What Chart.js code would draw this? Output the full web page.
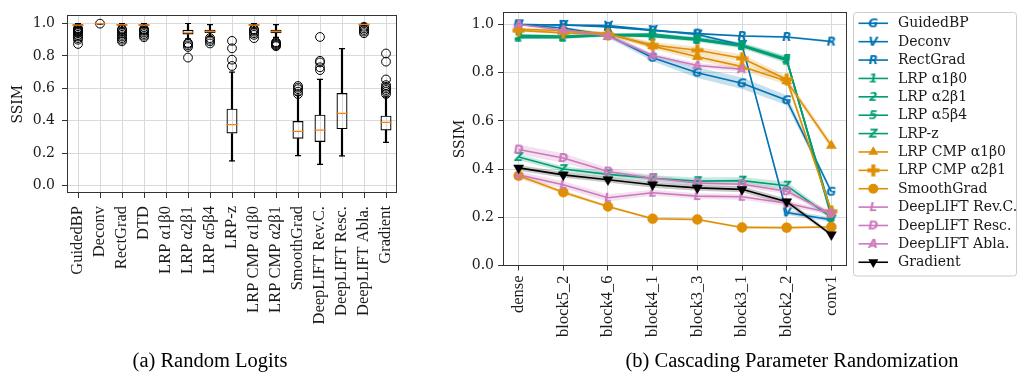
<!DOCTYPE html>
<html>
<head>
<meta charset="utf-8">
<script src="https://cdn.jsdelivr.net/npm/chart.js"></script>
<style>
  body { margin: 0; background: #fff; width: 1019px; height: 376px; position: relative; overflow: hidden; }
  canvas { position: absolute; top: 0; }
  #boxCanvas { left: 0; }
  #lineCanvas { left: 430px; }
  .caption { position: absolute; top: 348px; transform: translateX(-50%); white-space: nowrap;
             font-family: "Liberation Serif", serif; font-size: 20.5px; line-height: 24px; color: #000; }
</style>
</head>
<body>
<canvas id="boxCanvas" width="420" height="376"></canvas>
<canvas id="lineCanvas" width="589" height="376"></canvas>
<div class="caption" style="left:210px">(a) Random Logits</div>
<div class="caption" style="left:792px">(b) Cascading Parameter Randomization</div>
<script>
//-------------------------------------------------------------------
// data: (a) random logits, box plot statistics per method
//-------------------------------------------------------------------
const methods = ['GuidedBP', 'Deconv', 'RectGrad', 'DTD', 'LRP α1β0', 'LRP α2β1', 'LRP α5β4', 'LRP-z',
  'LRP CMP α1β0', 'LRP CMP α2β1', 'SmoothGrad', 'DeepLIFT Rev.C.', 'DeepLIFT Resc.', 'DeepLIFT Abla.', 'Gradient'];

const boxQ1     = [0.986, 0.998, 0.986, 0.986, null, 0.932, 0.942, 0.322, 0.986, 0.940, 0.290, 0.270, 0.349, 0.990, 0.341];
const boxMedian = [0.990, 0.999, 0.991, 0.990, null, 0.946, 0.950, 0.376, 0.990, 0.950, 0.335, 0.343, 0.446, 0.995, 0.390];
const boxQ3     = [0.995, 1.000, 0.996, 0.995, null, 0.961, 0.962, 0.475, 0.995, 0.962, 0.399, 0.438, 0.572, 0.998, 0.432];
const whiskLow  = [0.975, 0.996, 0.972, 0.975, null, 0.905, 0.920, 0.153, 0.972, 0.915, 0.186, 0.132, 0.184, 0.985, 0.267];
const whiskHigh = [1.000, 1.000, 1.000, 1.000, null, 1.000, 0.993, 0.700, 1.000, 0.993, 0.558, 0.655, 0.845, 1.000, 0.548];
const outliers  = [
  [0.874, 0.900, 0.910, 0.920, 0.930, 0.940, 0.945, 0.950, 0.955, 0.960, 0.965, 0.970],
  [0.999],
  [0.890, 0.900, 0.910, 0.920, 0.930, 0.940, 0.950, 0.960, 0.965],
  [0.915, 0.925, 0.935, 0.945, 0.955, 0.960, 0.965],
  [],
  [0.790, 0.855, 0.865, 0.875, 0.880],
  [0.877, 0.890, 0.900, 0.910],
  [0.738, 0.777, 0.847, 0.893],
  [0.910, 0.930, 0.940, 0.950, 0.960, 0.965],
  [0.860, 0.865, 0.870, 0.875, 0.880, 0.885],
  [0.565, 0.580, 0.595, 0.605, 0.615],
  [0.713, 0.730, 0.760, 0.770, 0.917],
  [],
  [0.940, 0.950, 0.960, 0.970, 0.980],
  [0.565, 0.580, 0.590, 0.600, 0.610, 0.620, 0.655, 0.765, 0.815]
];

//-------------------------------------------------------------------
// data: (b) cascading parameter randomization, mean and spread
//-------------------------------------------------------------------
const layers = ['dense', 'block5_2', 'block4_6', 'block4_1', 'block3_3', 'block3_1', 'block2_2', 'conv1'];

const guidedBP     = [1.000, 0.985, 0.955, 0.862, 0.800, 0.756, 0.686, 0.306];
const deconv       = [1.000, 0.998, 0.995, 0.977, 0.958, 0.915, 0.220, 0.190];
const rectGrad     = [1.000, 0.998, 0.990, 0.975, 0.962, 0.952, 0.948, 0.929];
const lrpA1B0      = [0.945, 0.945, 0.955, 0.950, 0.935, 0.910, 0.850, 0.220];
const lrpA2B1      = [0.950, 0.948, 0.955, 0.953, 0.940, 0.913, 0.855, 0.210];
const lrpA5B4      = [0.955, 0.952, 0.958, 0.960, 0.940, 0.915, 0.857, 0.200];
const lrpZ         = [0.450, 0.400, 0.378, 0.362, 0.350, 0.352, 0.331, 0.200];
const cmpA1B0      = [0.980, 0.975, 0.962, 0.910, 0.866, 0.825, 0.765, 0.497];
const cmpA2B1      = [0.975, 0.965, 0.960, 0.915, 0.893, 0.860, 0.772, 0.225];
const smoothGrad   = [0.372, 0.304, 0.245, 0.194, 0.191, 0.158, 0.157, 0.160];
const deepliftRevC = [0.376, 0.335, 0.281, 0.302, 0.288, 0.285, 0.258, 0.218];
const deepliftResc = [0.481, 0.446, 0.390, 0.362, 0.342, 0.337, 0.308, 0.215];
const deepliftAbla = [1.000, 0.976, 0.952, 0.871, 0.830, 0.814, null, null];
const gradient     = [0.405, 0.376, 0.356, 0.335, 0.322, 0.316, 0.265, 0.128];

const guidedBPStd     = [0.002, 0.005, 0.010, 0.015, 0.022, 0.024, 0.020, 0.010];
const deconvStd       = [0.001, 0.002, 0.003, 0.005, 0.006, 0.008, 0.010, 0.010];
const rectGradStd     = [0.001, 0.001, 0.002, 0.003, 0.004, 0.004, 0.004, 0.005];
const lrpA1B0Std      = [0.005, 0.005, 0.006, 0.006, 0.008, 0.010, 0.012, 0.010];
const lrpA2B1Std      = [0.005, 0.005, 0.006, 0.006, 0.008, 0.010, 0.012, 0.010];
const lrpA5B4Std      = [0.005, 0.005, 0.006, 0.006, 0.008, 0.010, 0.012, 0.010];
const lrpZStd         = [0.012, 0.012, 0.012, 0.012, 0.015, 0.015, 0.016, 0.010];
const cmpA1B0Std      = [0.005, 0.006, 0.008, 0.012, 0.015, 0.015, 0.015, 0.015];
const cmpA2B1Std      = [0.005, 0.006, 0.008, 0.012, 0.015, 0.015, 0.015, 0.012];
const smoothGradStd   = [0.010, 0.008, 0.006, 0.005, 0.005, 0.004, 0.004, 0.004];
const deepliftRevCStd = [0.015, 0.015, 0.015, 0.012, 0.012, 0.012, 0.012, 0.010];
const deepliftRescStd = [0.020, 0.020, 0.015, 0.012, 0.012, 0.012, 0.012, 0.010];
const deepliftAblaStd = [0.002, 0.005, 0.008, 0.010, 0.010, 0.010, null, null];
const gradientStd     = [0.012, 0.012, 0.012, 0.012, 0.012, 0.012, 0.012, 0.008];

const yTicks = [0.0, 0.2, 0.4, 0.6, 0.8, 1.0];

//-------------------------------------------------------------------
// styling
//-------------------------------------------------------------------
const BLUE = '#0173b2', GREEN = '#029e73', ORANGE = '#de8f05', PINK = '#cc78bc', BLACK = '#000000';
const MEDIAN = '#ff7f0e';
const GRID = '#dadada', SPINE = '#333333', TEXT = '#1a1a1a';
const SERIF = '"DejaVu Serif", serif';
const TIMES = '"Liberation Serif", serif';

function letterMarker(ch, color) {
  const c = document.createElement('canvas');
  c.width = 14; c.height = 14;
  const g = c.getContext('2d');
  g.fillStyle = color;
  g.font = 'bold italic 12px "DejaVu Sans"';
  g.textAlign = 'center';
  g.textBaseline = 'middle';
  g.fillText(ch, 7, 7.5);
  return { img: c, radius: 5 };
}

function plusMarker(color) {
  const c = document.createElement('canvas');
  c.width = 13; c.height = 13;
  const g = c.getContext('2d');
  g.fillStyle = color;
  g.fillRect(4.5, 0.5, 4, 12);
  g.fillRect(0.5, 4.5, 12, 4);
  return { img: c, radius: 5 };
}

function rgba(hex, a) {
  const n = parseInt(hex.slice(1), 16);
  return 'rgba(' + (n >> 16) + ',' + ((n >> 8) & 255) + ',' + (n & 255) + ',' + a + ')';
}

const series = [
  { label: 'GuidedBP',        mean: guidedBP,     std: guidedBPStd,     color: BLUE,   marker: letterMarker('G', BLUE) },
  { label: 'Deconv',          mean: deconv,       std: deconvStd,       color: BLUE,   marker: letterMarker('V', BLUE) },
  { label: 'RectGrad',        mean: rectGrad,     std: rectGradStd,     color: BLUE,   marker: letterMarker('R', BLUE) },
  { label: 'LRP α1β0',        mean: lrpA1B0,      std: lrpA1B0Std,      color: GREEN,  marker: letterMarker('1', GREEN) },
  { label: 'LRP α2β1',        mean: lrpA2B1,      std: lrpA2B1Std,      color: GREEN,  marker: letterMarker('2', GREEN) },
  { label: 'LRP α5β4',        mean: lrpA5B4,      std: lrpA5B4Std,      color: GREEN,  marker: letterMarker('5', GREEN) },
  { label: 'LRP-z',           mean: lrpZ,         std: lrpZStd,         color: GREEN,  marker: letterMarker('Z', GREEN) },
  { label: 'LRP CMP α1β0',    mean: cmpA1B0,      std: cmpA1B0Std,      color: ORANGE, marker: { shape: 'triangle', radius: 5.8, rotation: 0 } },
  { label: 'LRP CMP α2β1',    mean: cmpA2B1,      std: cmpA2B1Std,      color: ORANGE, marker: plusMarker(ORANGE) },
  { label: 'SmoothGrad',      mean: smoothGrad,   std: smoothGradStd,   color: ORANGE, marker: { shape: 'circle', radius: 5, rotation: 0 } },
  { label: 'DeepLIFT Rev.C.', mean: deepliftRevC, std: deepliftRevCStd, color: PINK,   marker: letterMarker('L', PINK) },
  { label: 'DeepLIFT Resc.',  mean: deepliftResc, std: deepliftRescStd, color: PINK,   marker: letterMarker('D', PINK) },
  { label: 'DeepLIFT Abla.',  mean: deepliftAbla, std: deepliftAblaStd, color: PINK,   marker: letterMarker('A', PINK) },
  { label: 'Gradient',        mean: gradient,     std: gradientStd,     color: BLACK,  marker: { shape: 'triangle', radius: 5.8, rotation: 180 } }
];

//-------------------------------------------------------------------
// plugins
//-------------------------------------------------------------------
const framePlugin = {
  id: 'frame',
  afterDatasetsDraw(chart) {
    const { ctx, chartArea: a } = chart;
    const l = Math.round(a.left) + 0.5, t = Math.round(a.top) + 0.5;
    const r = Math.round(a.right) - 0.5, b = Math.round(a.bottom) - 0.5;
    ctx.save();
    ctx.strokeStyle = SPINE;
    ctx.lineWidth = 1;
    ctx.strokeRect(l, t, r - l, b - t);
    ctx.restore();
  }
};

function drawMarker(ctx, m, x, y, color) {
  ctx.save();
  if (m.img) {
    ctx.drawImage(m.img, x - m.img.width / 2, y - m.img.height / 2);
  } else {
    ctx.fillStyle = color;
    ctx.beginPath();
    if (m.shape === 'circle') {
      ctx.arc(x, y, m.radius, 0, Math.PI * 2);
    } else {
      let rad = m.rotation * Math.PI / 180;
      for (let k = 0; k < 3; k++) {
        const px = x + Math.sin(rad) * m.radius, py = y - Math.cos(rad) * m.radius;
        if (k === 0) ctx.moveTo(px, py); else ctx.lineTo(px, py);
        rad += Math.PI * 2 / 3;
      }
      ctx.closePath();
    }
    ctx.fill();
  }
  ctx.restore();
}

const sideLegend = {
  id: 'sideLegend',
  afterDraw(chart) {
    const { ctx, chartArea: a } = chart;
    const x0 = a.right + 6.5, y0 = 12.5, w = 163, h = 263.5, rr = 3;
    ctx.save();
    ctx.beginPath();
    ctx.moveTo(x0 + rr, y0);
    ctx.lineTo(x0 + w - rr, y0);
    ctx.arcTo(x0 + w, y0, x0 + w, y0 + rr, rr);
    ctx.lineTo(x0 + w, y0 + h - rr);
    ctx.arcTo(x0 + w, y0 + h, x0 + w - rr, y0 + h, rr);
    ctx.lineTo(x0 + rr, y0 + h);
    ctx.arcTo(x0, y0 + h, x0, y0 + h - rr, rr);
    ctx.lineTo(x0, y0 + rr);
    ctx.arcTo(x0, y0, x0 + rr, y0, rr);
    ctx.closePath();
    ctx.fillStyle = 'rgba(255,255,255,0.8)';
    ctx.fill();
    ctx.strokeStyle = '#cccccc';
    ctx.lineWidth = 1;
    ctx.stroke();

    ctx.font = '14px ' + SERIF;
    ctx.textBaseline = 'middle';
    series.forEach((s, i) => {
      const y = 23.3 + i * 18.38;
      ctx.strokeStyle = s.color;
      ctx.lineWidth = 1.6;
      ctx.beginPath();
      ctx.moveTo(x0 + 5, y);
      ctx.lineTo(x0 + 34.5, y);
      ctx.stroke();
      drawMarker(ctx, s.marker, x0 + 19.8, y, s.color);
      ctx.fillStyle = TEXT;
      ctx.fillText(s.label, x0 + 44.5, y + 0.5);
    });
    ctx.restore();
  }
};

//-------------------------------------------------------------------
// (a) box plot
//-------------------------------------------------------------------
function makeBoxChart() {
  const range = (lo, hi) => methods.map((m, i) => (lo[i] == null ? null : [lo[i], hi[i]]));
  const pointsAt = (vals) => methods.map((m, i) => ({ x: m, y: vals[i] }));
  const outlierPts = [];
  methods.forEach((m, i) => outliers[i].forEach(v => outlierPts.push({ x: m, y: v })));

  const pointSet = (data, style, radius, color, width) => ({
    type: 'line', data: data, showLine: false, pointStyle: style, pointRadius: radius,
    pointBorderColor: color, pointBackgroundColor: 'rgba(0,0,0,0)', pointBorderWidth: width
  });

  new Chart(document.getElementById('boxCanvas'), {
    type: 'bar',
    data: {
      labels: methods,
      datasets: [
        pointSet(pointsAt(boxMedian), 'line', 5.5, MEDIAN, 1.2),
        pointSet(outlierPts, 'circle', 4.4, '#000', 1),
        pointSet(pointsAt(whiskLow), 'line', 3, '#000', 1.2),
        pointSet(pointsAt(whiskHigh), 'line', 3, '#000', 1.2),
        { data: range(boxQ1, boxQ3), grouped: false, barPercentage: 0.5, categoryPercentage: 1,
          backgroundColor: 'rgba(0,0,0,0)', borderColor: '#000', borderWidth: 1.2, borderSkipped: false },
        { data: range(whiskLow, boxQ1), grouped: false, barThickness: 1.5, backgroundColor: '#000', borderWidth: 0 },
        { data: range(boxQ3, whiskHigh), grouped: false, barThickness: 1.5, backgroundColor: '#000', borderWidth: 0 }
      ]
    },
    options: {
      responsive: false,
      animation: false,
      events: [],
      layout: { padding: { left: 0, top: 5, right: 23, bottom: 0 } },
      plugins: { legend: { display: false }, tooltip: { enabled: false } },
      scales: {
        x: {
          offset: true,
          grid: { offset: false, color: GRID, lineWidth: 1, tickLength: 5, tickColor: SPINE },
          border: { display: false },
          ticks: { autoSkip: false, minRotation: 90, maxRotation: 90, padding: 8, color: TEXT,
                   font: { family: TIMES, size: 16.5 } },
          afterFit: (s) => { s.height = 183; }
        },
        y: {
          min: -0.045, max: 1.05,
          afterBuildTicks: (s) => { s.ticks = yTicks.map(v => ({ value: v })); },
          grid: { color: GRID, lineWidth: 1, tickLength: 5, tickColor: SPINE },
          border: { display: false },
          ticks: { padding: 7, color: TEXT, font: { family: SERIF, size: 14 }, callback: (v) => v.toFixed(1) },
          title: { display: true, text: 'SSIM', color: TEXT, font: { family: SERIF, size: 14 }, padding: { top: 10, bottom: 0 } },
          afterFit: (s) => { s.width = 67; }
        }
      }
    },
    plugins: [framePlugin]
  });
}

//-------------------------------------------------------------------
// (b) line chart with spread bands
//-------------------------------------------------------------------
function makeLineChart() {
  const pts = (vals, spread, sign) => vals.map((v, i) => ({
    x: i, y: v == null ? null : v + sign * (spread ? spread[i] : 0)
  }));

  const lines = [];
  const bands = [];
  series.slice().reverse().forEach(s => {
    lines.push({
      data: pts(s.mean, null, 0),
      borderColor: s.color, borderWidth: 1.6, fill: false, spanGaps: false,
      pointStyle: s.marker.img || s.marker.shape,
      pointRadius: s.marker.radius,
      pointRotation: s.marker.rotation || 0,
      pointBackgroundColor: s.color, pointBorderColor: s.color, pointBorderWidth: 0.5
    });
    bands.push({ data: pts(s.mean, s.std, -1), borderWidth: 0, pointRadius: 0, fill: false, spanGaps: false });
    bands.push({ data: pts(s.mean, s.std, 1), borderWidth: 0, pointRadius: 0, fill: '-1', spanGaps: false,
                 backgroundColor: rgba(s.color, 0.22) });
  });

  new Chart(document.getElementById('lineCanvas'), {
    type: 'line',
    data: { datasets: lines.concat(bands) },
    options: {
      responsive: false,
      animation: false,
      events: [],
      layout: { padding: { left: 0, top: 5, right: 172, bottom: 0 } },
      plugins: { legend: { display: false }, tooltip: { enabled: false } },
      scales: {
        x: {
          type: 'linear', min: -0.35, max: 7.35,
          afterBuildTicks: (s) => { s.ticks = layers.map((l, i) => ({ value: i })); },
          grid: { color: GRID, lineWidth: 1, tickLength: 5, tickColor: SPINE },
          border: { display: false },
          ticks: { autoSkip: false, minRotation: 90, maxRotation: 90, padding: 5, color: TEXT,
                   font: { family: TIMES, size: 16.5 }, callback: (v) => layers[Math.round(v)] },
          afterFit: (s) => { s.height = 110.5; }
        },
        y: {
          min: 0, max: 1.05,
          afterBuildTicks: (s) => { s.ticks = yTicks.map(v => ({ value: v })); },
          grid: { color: GRID, lineWidth: 1, tickLength: 5, tickColor: SPINE },
          border: { display: false },
          ticks: { padding: 4, color: TEXT, font: { family: SERIF, size: 14 }, callback: (v) => v.toFixed(1) },
          title: { display: true, text: 'SSIM', color: TEXT, font: { family: SERIF, size: 14 }, padding: { top: 21.6, bottom: 0 } },
          afterFit: (s) => { s.width = 73; }
        }
      }
    },
    plugins: [framePlugin, sideLegend]
  });
}

makeBoxChart();
makeLineChart();
</script>
</body>
</html>
